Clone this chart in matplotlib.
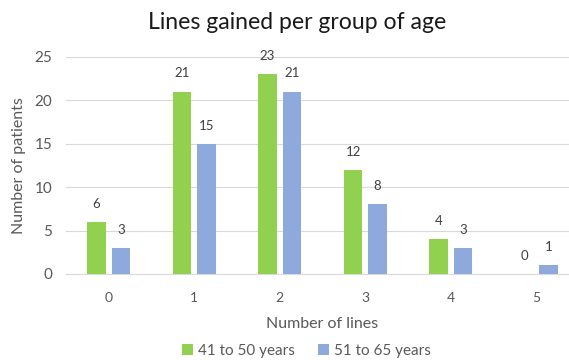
import numpy as np
import matplotlib
matplotlib.use('Agg')
import matplotlib.pyplot as plt

plt.rcParams['font.family'] = ['Lato', 'DejaVu Sans']

categories = ['0', '1', '2', '3', '4', '5']
group_41_50 = [6, 21, 23, 12, 4, 0]
group_51_65 = [3, 15, 21, 8, 3, 1]
labels = ['41 to 50 years', '51 to 65 years']

green = '#92D050'
blue = '#8EA9DB'
text_color = '#595959'

fig = plt.figure(figsize=(5.69, 3.6), dpi=100)
# the plot area runs past the right edge (the reference is cropped)
ax = fig.add_axes([0.116, 0.239, 0.9016, 0.603])

x = np.arange(len(categories))
w = 0.22
gap = 0.065
b1 = ax.bar(x - w / 2 - gap / 2, group_41_50, w, color=green, label=labels[0], zorder=3)
b2 = ax.bar(x + w / 2 + gap / 2, group_51_65, w, color=blue, label=labels[1], zorder=3)

for bars in (b1, b2):
    for r in bars:
        h = r.get_height()
        ax.text(r.get_x() + r.get_width() / 2, h + 1.4, str(int(h)),
                ha='center', va='bottom', fontsize=9.5, color='#404040')

ax.set_ylim(0, 25)
ax.set_xlim(-0.5, 5.5)
ax.set_yticks(range(0, 26, 5))
ax.set_xticks(x)
ax.set_xticklabels(categories)
ax.grid(axis='y', color='#D9D9D9', linewidth=0.8, zorder=0)
for s in ['top', 'right', 'left']:
    ax.spines[s].set_visible(False)
ax.spines['bottom'].set_color('#D9D9D9')
ax.tick_params(axis='y', length=0, labelsize=11, colors=text_color, pad=10)
ax.tick_params(axis='x', length=0, labelsize=10, colors=text_color, pad=13)

ax.set_xlabel('Number of lines', fontsize=11.5, color=text_color, labelpad=9)
ax.set_ylabel('Number of patients', fontsize=11.5, color=text_color, labelpad=6)
fig.text(0.522, 0.938, 'Lines gained per group of age', ha='center', va='center',
         fontsize=16.6, color='#1a1a1a')

fig.legend(loc='center', bbox_to_anchor=(0.538, 0.025), ncol=2, frameon=False,
           fontsize=11, handlelength=0.75, handleheight=0.75, handletextpad=0.3,
           columnspacing=1.5, labelcolor=text_color)

fig.savefig('out.png', dpi=100)
